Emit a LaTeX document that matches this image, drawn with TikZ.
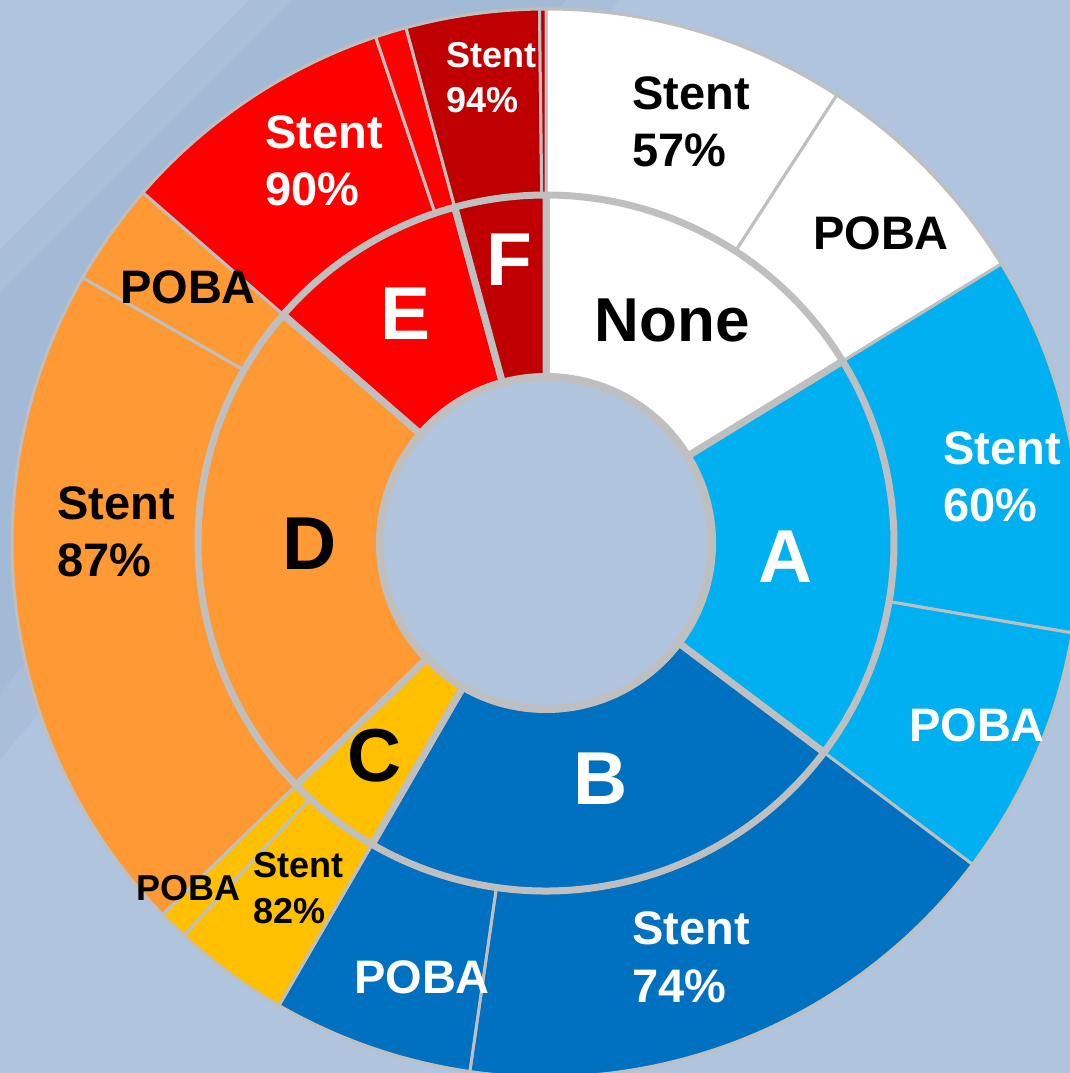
\documentclass[tikz,border=0pt]{standalone}
\usepackage{fontspec}
\setmainfont{Liberation Sans}
\definecolor{bgc}{RGB}{176,196,222}
\definecolor{bandc}{RGB}{150,178,208}
\definecolor{segline}{RGB}{191,191,191}
\definecolor{cNone}{RGB}{255,255,255}
\definecolor{cA}{RGB}{0,176,240}
\definecolor{cB}{RGB}{0,112,192}
\definecolor{cC}{RGB}{255,192,0}
\definecolor{cD}{RGB}{255,153,51}
\definecolor{cE}{RGB}{255,0,0}
\definecolor{cF}{RGB}{192,0,0}
\newcommand\annsec[5]{\path[#1] (#2:#4pt) arc[start angle=#2,end angle=#3,radius=#4pt] -- (#3:#5pt) arc[start angle=#3,end angle=#2,radius=#5pt] -- cycle;}
\tikzset{
  outerseg/.style={draw=segline, line width=3pt, line join=round},
  innerseg/.style={draw=segline, line width=7pt, line join=round},
  biglab/.style={font=\bfseries\fontsize{47}{57.5}\selectfont, inner sep=0pt, align=left, anchor=base west},
  poba/.style={font=\bfseries\fontsize{47}{57.5}\selectfont, inner sep=0pt, anchor=base},
  smalllab/.style={font=\bfseries\fontsize{36}{45.5}\selectfont, inner sep=0pt, align=left, anchor=base west},
  smallpoba/.style={font=\bfseries\fontsize{36}{45.5}\selectfont, inner sep=0pt, anchor=base},
  letter/.style={font=\bfseries\fontsize{75}{80}\selectfont, inner sep=0pt, anchor=base},
}
\begin{document}
\begin{tikzpicture}[x=1pt,y=1pt]
\useasboundingbox (-546,-530) rectangle (524,543);
\clip (-546,-530) rectangle (524,543);
\fill[bgc] (-546,-530) rectangle (524,543);
% background streak band
\fill[bandc, opacity=0.3] (-546,293) -- (-296,543) -- (74,543) -- (-546,-217) -- cycle;
\fill[bandc, opacity=0.3] (-546,250) -- (-253,543) -- (20,543) -- (-546,-150) -- cycle;
% outer ring
\annsec{outerseg, fill=cNone}{90}{57}{166}{534}
\annsec{outerseg, fill=cNone}{57}{31.5}{166}{534}
\annsec{outerseg, fill=cA}{31.5}{-9.7}{166}{534}
\annsec{outerseg, fill=cA}{-9.7}{-37}{166}{534}
\annsec{outerseg, fill=cB}{-37}{-98.2}{166}{534}
\annsec{outerseg, fill=cB}{-98.2}{-120}{166}{534}
\annsec{outerseg, fill=cC}{-120}{-132.7}{166}{534}
\annsec{outerseg, fill=cC}{-132.7}{-135.9}{166}{534}
\annsec{outerseg, fill=cD}{224.1}{150.2}{166}{534}
\annsec{outerseg, fill=cD}{150.2}{139}{166}{534}
\annsec{outerseg, fill=cE}{139}{108.6}{166}{534}
\annsec{outerseg, fill=cE}{108.6}{105.2}{166}{534}
\annsec{outerseg, fill=cF}{105.2}{90.7}{166}{534}
\annsec{outerseg, fill=cF}{90.7}{90}{166}{534}
% inner ring
\annsec{innerseg, fill=cNone}{90}{31.5}{166}{348}
\annsec{innerseg, fill=cA}{31.5}{-37}{166}{348}
\annsec{innerseg, fill=cB}{-37}{-120}{166}{348}
\annsec{innerseg, fill=cC}{-120}{-135.9}{166}{348}
\annsec{innerseg, fill=cD}{224.1}{139}{166}{348}
\annsec{innerseg, fill=cE}{139}{105.2}{166}{348}
\annsec{innerseg, fill=cF}{105.2}{90}{166}{348}
% hole
\draw[draw=segline, line width=8pt, fill=bgc] (0,0) circle[radius=166pt];
% inner labels
\node[letter, font=\bfseries\fontsize{62}{70}\selectfont, text=black] (lNone) at (126,201) {None};
\node[letter, text=white] (lA) at (240,-40) {A};
\node[letter, text=white] (lB) at (55,-261) {B};
\node[letter, text=black] (lC) at (-171,-238) {C};
\node[letter, text=black] (lD) at (-236,-27) {D};
\node[letter, text=white] (lE) at (-140,203) {E};
\node[letter, text=white] (lF) at (-37,257) {F};
% outer labels (anchor = baseline of last line)
\node[biglab, text=black] (sNone) at (86,376) {Stent\\57\%};
\node[poba, text=black] (pNone) at (335,293) {POBA};
\node[biglab, text=white] (sA) at (397,21) {Stent\\60\%};
\node[poba, text=white] (pA) at (431,-198) {POBA};
\node[biglab, text=white] (sB) at (86,-459) {Stent\\74\%};
\node[poba, text=white] (pB) at (-124,-450) {POBA};
\node[smalllab, text=black] (sC) at (-293,-380) {Stent\\82\%};
\node[smallpoba, text=black] (pC) at (-357.5,-357) {POBA};
\node[biglab, text=black] (sD) at (-489,-34) {Stent\\87\%};
\node[poba, text=black] (pD) at (-358,239) {POBA};
\node[biglab, text=white] (sE) at (-281,337) {Stent\\90\%};
\node[smalllab, text=white] (sF) at (-100,430) {Stent\\94\%};
\end{tikzpicture}
\end{document}
